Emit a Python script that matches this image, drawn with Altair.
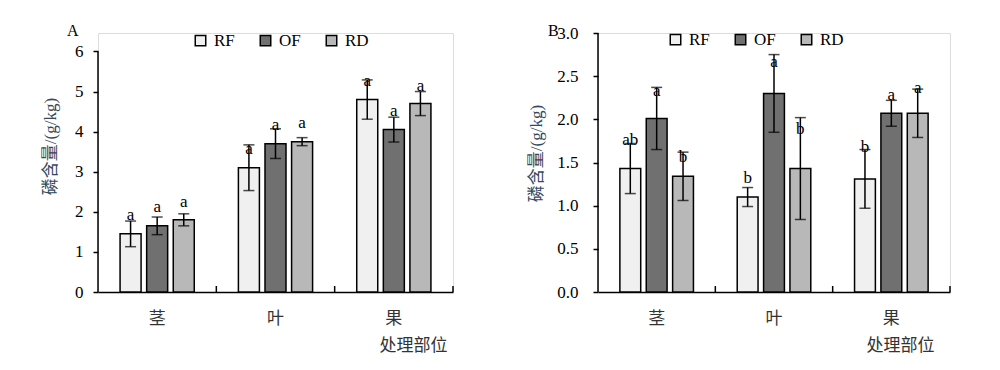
import altair as alt
import pandas as pd

categories = ["茎", "叶", "果"]
series = ["RF", "OF", "RD"]
colors = ["#f0f0f0", "#707070", "#b8b8b8"]

# Panel A
A_RF = [1.45, 3.10, 4.80]
A_OF = [1.65, 3.70, 4.05]
A_RD = [1.80, 3.75, 4.70]
A_RF_err = [0.32, 0.57, 0.49]
A_OF_err = [0.22, 0.37, 0.31]
A_RD_err = [0.15, 0.10, 0.30]
A_RF_let = ["a", "a", "a"]
A_OF_let = ["a", "a", "a"]
A_RD_let = ["a", "a", "a"]
A_RF_ly = [1.95, 3.59, 5.28]
A_OF_ly = [2.14, 4.20, 4.53]
A_RD_ly = [2.28, 4.24, 5.16]
A_ticks = [0, 1, 2, 3, 4, 5, 6]

# Panel B
B_RF = [1.43, 1.10, 1.31]
B_OF = [2.01, 2.30, 2.07]
B_RD = [1.34, 1.43, 2.07]
B_RF_err = [0.29, 0.11, 0.34]
B_OF_err = [0.36, 0.45, 0.15]
B_RD_err = [0.28, 0.59, 0.28]
B_RF_let = ["ab", "b", "b"]
B_OF_let = ["a", "a", "a"]
B_RD_let = ["b", "b", "a"]
B_RF_ly = [1.77, 1.33, 1.69]
B_OF_ly = [2.34, 2.67, 2.29]
B_RD_ly = [1.58, 1.90, 2.37]
B_ticks = [0.0, 0.5, 1.0, 1.5, 2.0, 2.5, 3.0]

y_title = "磷含量/(g/kg)"
x_title = "处理部位"

SERIF = "Liberation Serif"
CJK = "Noto Sans CJK SC"
MIX = "Liberation Serif, Noto Sans CJK SC"


def make_df(vals, errs, lets, lys):
    rows = []
    for s, v, e, l, ly in zip(series, vals, errs, lets, lys):
        for c, vv, ee, ll, yy in zip(categories, v, e, l, ly):
            rows.append({"part": c, "trt": s, "val": vv, "lo": vv - ee, "hi": vv + ee,
                         "let": ll, "ly": yy})
    return pd.DataFrame(rows)


def panel(df, ticks, ymax, fmt, label, W, H, lab_pad, ytx, yty, xtx, legx, legy, labx):
    xscale = alt.Scale(paddingInner=0, paddingOuter=0)
    xoff = alt.XOffset("trt:N", sort=series,
                       scale=alt.Scale(paddingInner=0.21, paddingOuter=0.83))
    yscale = alt.Scale(domain=[0, ymax], nice=False, zero=True)
    yaxis = alt.Axis(values=ticks, format=fmt, domain=False, grid=False,
                     tickSize=5, tickColor="black", tickWidth=1.5,
                     labelFont=SERIF, labelFontSize=17, labelColor="black",
                     labelPadding=lab_pad,
                     title=y_title, titleFont=MIX, titleFontSize=17,
                     titleFontWeight="normal", titleColor="#34495e",
                     titleAngle=270, titleAlign="center", titleBaseline="middle",
                     titleX=ytx, titleY=yty)
    xaxis = alt.Axis(ticks=False, tickSize=0, labelAngle=0, labelFont=CJK,
                     labelFontSize=17, labelColor="#333333", labelPadding=18,
                     domainColor="black", domainWidth=1.5,
                     title=x_title, titleFont=CJK, titleFontSize=17,
                     titleFontWeight="normal", titleColor="#333333",
                     titleAlign="center", titleBaseline="middle",
                     titleX=xtx, titleY=53)

    def X():
        return alt.X("part:N", sort=categories, scale=xscale, axis=xaxis)

    def Y(f):
        return alt.Y(f, type="quantitative", scale=yscale, axis=yaxis, title=y_title)

    base = alt.Chart(df)
    bars = base.mark_bar(stroke="black", strokeWidth=1.5).encode(
        x=X(), xOffset=xoff, y=Y("val"),
        color=alt.Color("trt:N", sort=series,
                        scale=alt.Scale(domain=series, range=colors),
                        legend=alt.Legend(title=None, orient="none", direction="horizontal",
                                          legendX=legx, legendY=legy,
                                          symbolType="square", symbolSize=110,
                                          symbolStrokeColor="black", symbolStrokeWidth=1.5,
                                          symbolOpacity=1,
                                          labelFont=SERIF, labelFontSize=17,
                                          labelColor="black", labelOffset=5,
                                          columnPadding=22)))
    err = base.mark_rule(color="black", strokeWidth=1.5).encode(
        x=X(), xOffset=xoff, y=Y("lo"), y2="hi")
    cap_lo = base.mark_tick(color="black", size=11, thickness=1.5).encode(
        x=X(), xOffset=xoff, y=Y("lo"))
    cap_hi = base.mark_tick(color="black", size=11, thickness=1.5).encode(
        x=X(), xOffset=xoff, y=Y("hi"))
    letters = base.mark_text(font=SERIF, fontSize=17, color="black",
                             baseline="middle", dy=1).encode(
        x=X(), xOffset=xoff, y=Y("ly"), text="let:N")
    xt = alt.Chart(pd.DataFrame({"part": categories})).mark_rule(
        color="black", strokeWidth=1.5).encode(
        x=alt.X("part:N", sort=categories, scale=xscale, bandPosition=1),
        y=alt.value(H - 6), y2=alt.value(H))
    ydom = alt.Chart(pd.DataFrame({"y0": [ticks[0]], "y1": [ticks[-1]]})).mark_rule(
        color="black", strokeWidth=1.5).encode(
        x=alt.value(0), y=Y("y0"), y2="y1")
    lab = alt.Chart(pd.DataFrame({"t": [label]})).mark_text(
        font=SERIF, fontSize=16, color="black", baseline="middle", align="left").encode(
        text="t:N", x=alt.value(labx), y=alt.value(-2))
    return alt.layer(bars, err, cap_lo, cap_hi, letters, xt, ydom, lab).properties(
        width=W, height=H)


dfA = make_df([A_RF, A_OF, A_RD], [A_RF_err, A_OF_err, A_RD_err],
              [A_RF_let, A_OF_let, A_RD_let], [A_RF_ly, A_OF_ly, A_RD_ly])
dfB = make_df([B_RF, B_OF, B_RD], [B_RF_err, B_OF_err, B_RD_err],
              [B_RF_let, B_OF_let, B_RD_let], [B_RF_ly, B_OF_ly, B_RD_ly])

pA = panel(dfA, A_ticks, 6.46, "d", "A", 355, 259, 10, -48, 113, 315, 94, -1, -31)
pB = panel(dfB, B_ticks, 3.0, ".1f", "B", 352, 259, 15, -62, 120, 302, 69, -2, -50)

chart = alt.hconcat(pA, pB, spacing=71).resolve_scale(
    color="independent", x="independent", y="independent", xOffset="independent"
).resolve_legend(color="independent").properties(
    padding={"left": 32, "top": 14, "right": 5, "bottom": 5}
).configure_view(stroke=None).configure(background="white")

chart.save("out.html", embed_options={"renderer": "svg", "actions": False})
